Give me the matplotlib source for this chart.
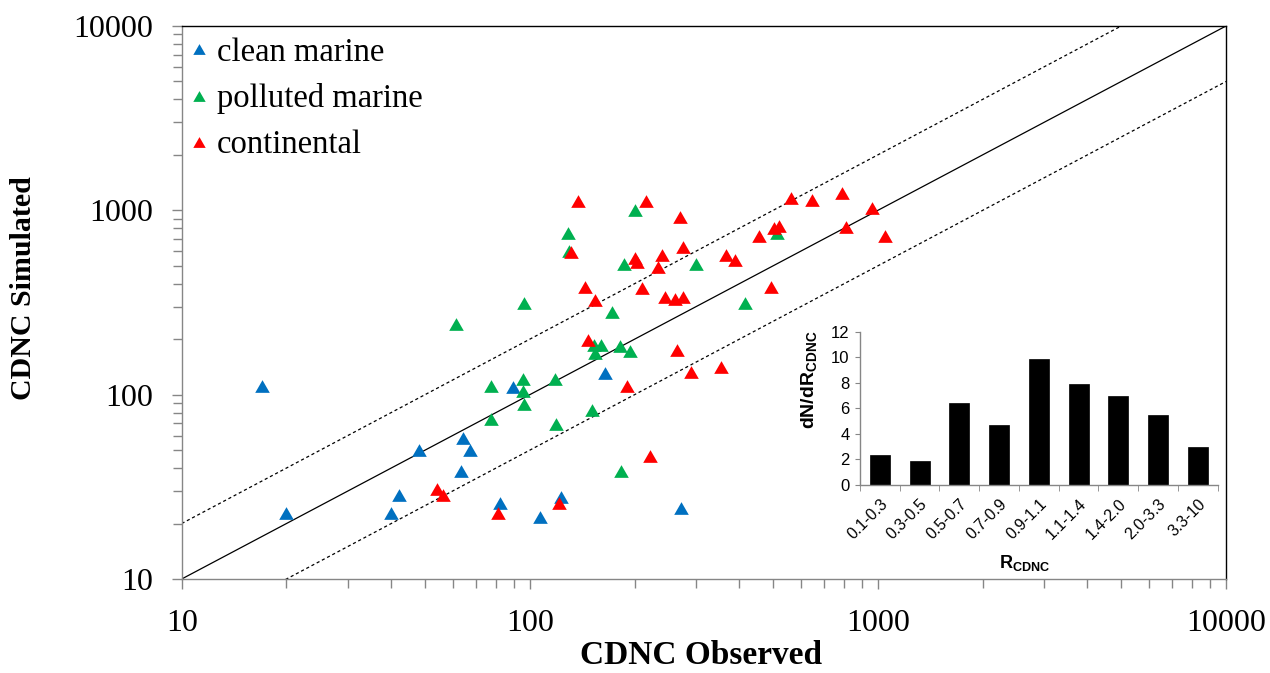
import matplotlib
matplotlib.use("Agg")
import matplotlib.pyplot as plt
import numpy as np
from matplotlib.ticker import LogLocator, FixedLocator, NullFormatter, FuncFormatter
from matplotlib.path import Path

# ---------------- data ----------------
clean_x = [17.0, 20.0, 40.0, 42.1, 48.1, 64.1, 67.3, 63.4, 82.0, 89.3, 106.8, 123.3, 164.9, 272]
clean_y = [112, 22.7, 22.7, 28.7, 49.9, 58.2, 49.9, 38.4, 25.7, 110, 21.7, 27.7, 131, 24.4]

poll_x = [96.1, 61.2, 77.5, 95.5, 95.5, 96.1, 77.5, 118, 118.8, 200, 129, 130, 186, 300,
          172, 153, 160, 154, 182, 194, 150.7, 183, 414, 514]
poll_y = [313, 242, 112, 121, 104.6, 89.3, 74.1, 122, 69.7, 1004, 757, 600, 512, 512,
          282, 187, 187, 169, 183, 172, 82.2, 38.4, 313, 750]

cont_x = [54.0, 56.3, 81.1, 121, 138, 215, 270, 131, 200, 203, 240, 275, 234, 144, 154,
          210, 245, 262, 275, 147, 265, 290, 355, 190, 221, 494, 455, 502, 519, 365,
          388, 564, 648, 788, 961, 811, 1050]
cont_y = [30.6, 28.5, 22.7, 25.7, 1117, 1127, 923, 592, 552, 527, 573, 629, 495, 385, 326,
          379, 337, 331, 337, 199, 174, 133, 141, 111, 46.5, 385, 729, 798, 825, 575,
          540, 1166, 1137, 1241, 1024, 808, 729]

line_x = [10, 10000]
ratio_lines = [1.0, 2.0, 0.5]

bins = ["0.1-0.3", "0.3-0.5", "0.5-0.7", "0.7-0.9", "0.9-1.1", "1.1-1.4", "1.4-2.0", "2.0-3.3", "3.3-10"]
dndr = [2.35, 1.85, 6.45, 4.7, 9.85, 7.9, 7.0, 5.5, 3.0]

main_ticks = [10, 100, 1000, 10000]
inset_yticks = [0, 2, 4, 6, 8, 10, 12]

# ---------------- style ----------------
serif = "Liberation Serif"
sans = "Liberation Sans"
plt.rcParams['mathtext.fontset'] = 'custom'
plt.rcParams['mathtext.rm'] = sans
plt.rcParams['mathtext.bf'] = sans + ':bold'

blue = "#0070C0"
green = "#00B050"
red = "#FF0000"
gray = "#868686"

tri = Path([(0, 0.8), (-0.92, -0.8), (0.92, -0.8), (0, 0.8)],
           [Path.MOVETO, Path.LINETO, Path.LINETO, Path.CLOSEPOLY])

fig = plt.figure(figsize=(12.7, 6.73), dpi=100)
W, H = 1270, 673
ax = fig.add_axes([181.7 / W, 1 - 579 / H, (1226 - 181.7) / W, (579 - 26) / H])

ax.set_xscale('log')
ax.set_yscale('log')
ax.set_xlim(10, 10000)
ax.set_ylim(10, 10000)

for r in ratio_lines:
    ly = [v * r for v in line_x]
    if r == 1.0:
        ax.plot(line_x, ly, color='black', lw=0.9, zorder=2)
    else:
        ax.plot(line_x, ly, color='black', lw=0.9, ls=(0, (2.5, 2.2)), zorder=2)

ms = 10.5
ax.plot(clean_x, clean_y, ls='none', marker=tri, ms=ms, color=blue, mew=0, label='clean marine', zorder=3)
ax.plot(poll_x, poll_y, ls='none', marker=tri, ms=ms, color=green, mew=0, label='polluted marine', zorder=3)
ax.plot(cont_x, cont_y, ls='none', marker=tri, ms=ms, color=red, mew=0, label='continental', zorder=3)

fmt = FuncFormatter(lambda v, p: "%d" % int(round(v)))
for axis in (ax.xaxis, ax.yaxis):
    axis.set_major_locator(FixedLocator(main_ticks))
    axis.set_major_formatter(fmt)
    axis.set_minor_locator(LogLocator(base=10, subs=np.arange(2, 10)))
    axis.set_minor_formatter(NullFormatter())

ax.tick_params(which='both', direction='out', color=gray, width=1)
ax.tick_params(which='major', length=7.5, labelsize=23)
ax.tick_params(which='minor', length=6.5)
ax.tick_params(axis='x', which='major', pad=14)
ax.tick_params(axis='y', which='major', pad=13)
for lab in ax.get_xticklabels() + ax.get_yticklabels():
    lab.set_fontfamily(serif)

ax.spines['left'].set_color(gray)
ax.spines['bottom'].set_color(gray)
ax.spines['top'].set_color('black')
ax.spines['right'].set_color('black')
for s in ax.spines.values():
    s.set_linewidth(1.0)

ax.set_xlabel("CDNC Observed", fontfamily=serif, fontweight='bold', fontsize=24,
              va='center', ha='center')
ax.set_ylabel("CDNC Simulated", fontfamily=serif, fontweight='bold', fontsize=21.5,
              va='center', ha='center')
ax.xaxis.set_label_coords((701 - 181.7) / 1044.3, (579 - 655) / 553)
ax.yaxis.set_label_coords((24 - 181.7) / 1044.3, (579 - 288) / 553)

leg = ax.legend(loc='upper left', bbox_to_anchor=((189 - 181.7) / 1044.3, 1 - 11 / 553),
                frameon=False, prop={'family': serif, 'size': 23.5},
                handlelength=0.6, handletextpad=0.25, labelspacing=0.48,
                borderpad=0, borderaxespad=0, markerscale=0.85)

# ---------------- inset ----------------
ia = fig.add_axes([860 / W, 1 - 485 / H, (1217.7 - 860) / W, (485 - 331.7) / H])
ia.set_facecolor('none')
pos = np.arange(len(bins))
ia.bar(pos, dndr, width=0.5, color='black', edgecolor='black', lw=0.5)
ia.set_xlim(-0.5, len(bins) - 0.5)
ia.set_ylim(0, 12)
ia.set_yticks(inset_yticks)
ia.set_xticks(pos)
ia.set_xticklabels(bins, rotation=45, ha='right', rotation_mode='anchor',
                   fontfamily=sans, fontsize=11.5)
ia.set_xticks(np.arange(-0.5, len(bins), 1), minor=True)
ia.tick_params(axis='x', which='major', length=0, pad=8)
ia.tick_params(axis='x', which='minor', length=4, color=gray, direction='out')
ia.tick_params(axis='y', length=3.5, color=gray, direction='out', labelsize=12, pad=4)
for lab in ia.get_yticklabels():
    lab.set_fontfamily(sans)
for side in ('top', 'right'):
    ia.spines[side].set_visible(False)
for side in ('left', 'bottom'):
    ia.spines[side].set_color(gray)
    ia.spines[side].set_linewidth(1.0)

ia.set_ylabel(r'$\mathbf{dN/dR}_{\mathbf{CDNC}}$', fontsize=14, va='center', ha='center')
ia.yaxis.set_label_coords((810 - 860) / 357.7, (485 - 380) / 153.3)
ia.set_xlabel(r'$\mathbf{R}_{\mathbf{CDNC}}$', fontsize=13, va='center', ha='center')
ia.xaxis.set_label_coords((1025 - 860) / 357.7, (485 - 563) / 153.3)

fig.savefig("out.png", dpi=100)
